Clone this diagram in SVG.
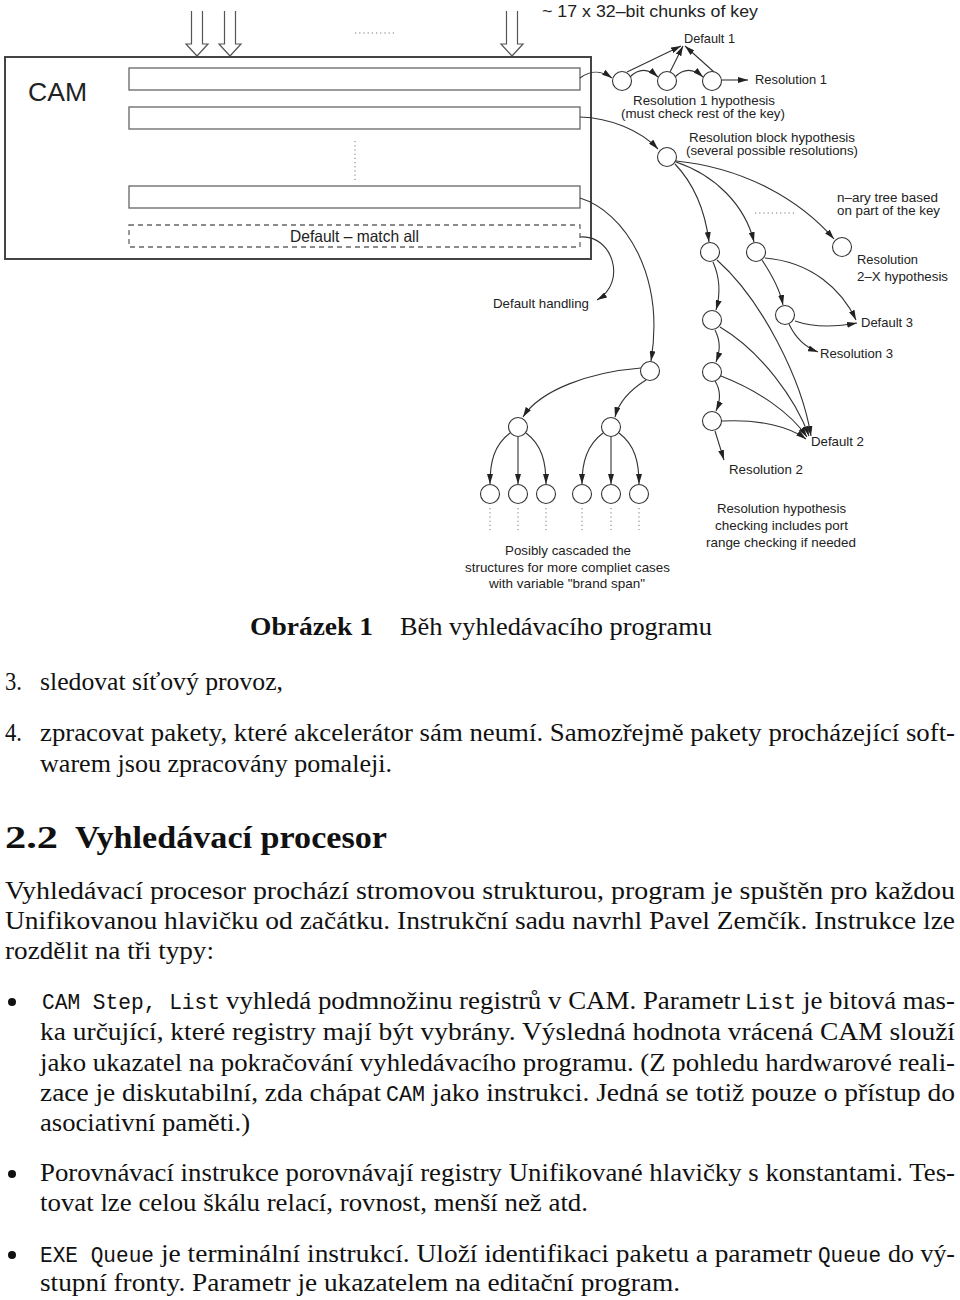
<svg xmlns="http://www.w3.org/2000/svg" width="960" height="1300" viewBox="0 0 960 1300">
<style>
.lbl{font-family:"Liberation Sans",Arial,sans-serif;font-size:13.5px;fill:#222}
.sm{font-size:12.5px}
.body{font-family:"Liberation Serif","Times New Roman",serif;font-size:25px;fill:#111}
.mono{font-family:"Liberation Mono","Courier New",monospace;font-size:22px;fill:#111}
.b{font-weight:bold}
.row{fill:none;stroke:#666;stroke-width:1.3}
.node{fill:#fff;stroke:#333;stroke-width:1.1}
.con{fill:none;stroke:#333;stroke-width:1.1}
.dots{fill:none;stroke:#777;stroke-width:1;stroke-dasharray:1.2 3}
.big{fill:none;stroke:#555;stroke-width:1.2}
</style>
<defs>
<marker id="ah" viewBox="0 0 10 6" refX="10" refY="3" markerWidth="10" markerHeight="6" markerUnits="userSpaceOnUse" orient="auto">
<path d="M0,0 L10,3 L0,6 z" fill="#222"/>
</marker>
</defs>

<g id="inputs">
<path class="big" d="M191.5,11 V44 H186 L197,56 L208,44 H202.5 V11"/>
<path class="big" d="M224.5,11 V44 H219 L230,56 L241,44 H235.5 V11"/>
<path class="big" d="M506.5,11 V44 H501 L512,56 L523,44 H517.5 V11"/>
<line class="dots" x1="355" y1="33" x2="394" y2="33"/>
<text class="lbl" x="542" y="17" style="font-size:17px" textLength="216" lengthAdjust="spacingAndGlyphs">~ 17 x 32–bit chunks of key</text>
</g>

<g id="cam">
<rect x="5" y="57" width="586" height="202" fill="none" stroke="#444" stroke-width="2"/>
<text class="lbl" x="28" y="101" style="font-size:26px" textLength="59" lengthAdjust="spacingAndGlyphs">CAM</text>
<rect class="row" x="129" y="68" width="451" height="22"/>
<rect class="row" x="129" y="107" width="451" height="22"/>
<line class="dots" x1="355" y1="141" x2="355" y2="180"/>
<rect class="row" x="129" y="186" width="451" height="22"/>
<rect class="row" x="129" y="225" width="451" height="22" stroke-dasharray="5 4"/>
<text class="lbl" x="290" y="242" style="font-size:16.5px" textLength="129" lengthAdjust="spacingAndGlyphs">Default – match all</text>
</g>

<g id="connectors">
<path class="con" marker-end="url(#ah)" d="M580,78 C592,69 602,71 612,78"/>
<path class="con" marker-end="url(#ah)" d="M630,77 C639,68 649,69 658,77"/>
<path class="con" marker-end="url(#ah)" d="M675,77 C684,68 694,69 703,77"/>
<path class="con" marker-end="url(#ah)" d="M722,80 L748,80"/>
<path class="con" marker-end="url(#ah)" d="M627,72 L681,46"/>
<path class="con" marker-end="url(#ah)" d="M670,72 L683,46"/>
<path class="con" marker-end="url(#ah)" d="M714,72 L685,46"/>
<path class="con" marker-end="url(#ah)" d="M580,117 C610,118 640,130 658,149"/>
<path class="con" marker-end="url(#ah)" d="M675,164 C695,185 705,210 709,242"/>
<path class="con" marker-end="url(#ah)" d="M676,162 C715,175 745,205 754,242"/>
<path class="con" marker-end="url(#ah)" d="M676,161 C745,168 800,200 834,239"/>
<path class="con" marker-end="url(#ah)" d="M580,198 C625,212 665,275 651,361"/>
<path class="con" marker-end="url(#ah)" d="M580,237 C612,234 628,282 597,300"/>
<path class="con" marker-end="url(#ah)" d="M713,262 C721,280 720,296 716,310"/>
<path class="con" marker-end="url(#ah)" d="M715,330 C721,342 720,351 716,362"/>
<path class="con" marker-end="url(#ah)" d="M715,381 C722,392 720,402 716,411"/>
<path class="con" marker-end="url(#ah)" d="M715,431 L724,460"/>
<path class="con" marker-end="url(#ah)" d="M722,421 C760,419 790,427 806,439"/>
<path class="con" marker-end="url(#ah)" d="M721,376 C757,390 790,412 807,437"/>
<path class="con" marker-end="url(#ah)" d="M720,327 C762,352 796,400 809,436"/>
<path class="con" marker-end="url(#ah)" d="M717,260 C762,300 802,380 811,436"/>
<path class="con" marker-end="url(#ah)" d="M762,260 C772,275 780,289 783,305"/>
<path class="con" marker-end="url(#ah)" d="M765,258 C812,262 842,290 856,320"/>
<path class="con" marker-end="url(#ah)" d="M795,321 C815,328 836,327 857,323"/>
<path class="con" marker-end="url(#ah)" d="M789,324 C795,337 805,347 818,352"/>
<path class="con" marker-end="url(#ah)" d="M641,368 C590,372 540,390 523,417"/>
<path class="con" marker-end="url(#ah)" d="M646,380 C630,390 619,401 615,417"/>
<path class="con" marker-end="url(#ah)" d="M510,433 C494,445 490,462 490,484"/>
<path class="con" marker-end="url(#ah)" d="M518,437 L518,484"/>
<path class="con" marker-end="url(#ah)" d="M526,433 C542,445 546,462 546,484"/>
<path class="con" marker-end="url(#ah)" d="M603,433 C587,445 582,462 582,484"/>
<path class="con" marker-end="url(#ah)" d="M611,437 L611,484"/>
<path class="con" marker-end="url(#ah)" d="M619,433 C635,445 639,462 639,484"/>
</g>

<g id="res1-chain">
<circle class="node" cx="622" cy="81" r="9.5"/>
<circle class="node" cx="667" cy="81" r="9.5"/>
<circle class="node" cx="712" cy="81" r="9.5"/>
<text class="lbl" x="684" y="43" textLength="51" lengthAdjust="spacingAndGlyphs">Default 1</text>
<text class="lbl" x="755" y="84" textLength="72" lengthAdjust="spacingAndGlyphs">Resolution 1</text>
<text class="lbl sm" x="633" y="105" textLength="142" lengthAdjust="spacingAndGlyphs">Resolution 1 hypothesis</text>
<text class="lbl sm" x="621" y="118" textLength="164" lengthAdjust="spacingAndGlyphs">(must check rest of the key)</text>
</g>

<g id="block">
<circle class="node" cx="667" cy="157" r="9.5"/>
<text class="lbl sm" x="689" y="142" textLength="166" lengthAdjust="spacingAndGlyphs">Resolution block hypothesis</text>
<text class="lbl sm" x="686" y="155" textLength="172" lengthAdjust="spacingAndGlyphs">(several possible resolutions)</text>
</g>

<g id="ntree">
<circle class="node" cx="710" cy="252" r="9.5"/>
<circle class="node" cx="756" cy="252" r="9.5"/>
<circle class="node" cx="842" cy="247" r="9.5"/>
<line class="dots" x1="755" y1="213" x2="794" y2="213"/>
<text class="lbl sm" x="837" y="202" textLength="101" lengthAdjust="spacingAndGlyphs">n–ary tree based</text>
<text class="lbl sm" x="837" y="215" textLength="103" lengthAdjust="spacingAndGlyphs">on part of the key</text>
<text class="lbl" x="857" y="264" textLength="61" lengthAdjust="spacingAndGlyphs">Resolution</text>
<text class="lbl" x="857" y="281" textLength="91" lengthAdjust="spacingAndGlyphs">2–X hypothesis</text>
</g>

<g id="branch3">
<circle class="node" cx="785" cy="315" r="9.5"/>
<text class="lbl" x="861" y="327" textLength="52" lengthAdjust="spacingAndGlyphs">Default 3</text>
<text class="lbl" x="820" y="358" textLength="73" lengthAdjust="spacingAndGlyphs">Resolution 3</text>
</g>

<g id="branch2">
<circle class="node" cx="712" cy="320" r="9.5"/>
<circle class="node" cx="712" cy="372" r="9.5"/>
<circle class="node" cx="712" cy="421" r="9.5"/>
<text class="lbl" x="811" y="446" textLength="53" lengthAdjust="spacingAndGlyphs">Default 2</text>
<text class="lbl" x="729" y="474" textLength="74" lengthAdjust="spacingAndGlyphs">Resolution 2</text>
<text class="lbl" x="717" y="513" textLength="129" lengthAdjust="spacingAndGlyphs">Resolution hypothesis</text>
<text class="lbl" x="715" y="530" textLength="133" lengthAdjust="spacingAndGlyphs">checking includes port</text>
<text class="lbl" x="706" y="547" textLength="150" lengthAdjust="spacingAndGlyphs">range checking if needed</text>
</g>

<g id="default-handling">
<text class="lbl" x="493" y="308" textLength="96" lengthAdjust="spacingAndGlyphs">Default handling</text>
</g>

<g id="cascade">
<circle class="node" cx="650" cy="371" r="9.5"/>
<circle class="node" cx="518" cy="427" r="9.5"/>
<circle class="node" cx="611" cy="427" r="9.5"/>
<circle class="node" cx="490" cy="494" r="9.5"/>
<circle class="node" cx="518" cy="494" r="9.5"/>
<circle class="node" cx="546" cy="494" r="9.5"/>
<circle class="node" cx="582" cy="494" r="9.5"/>
<circle class="node" cx="611" cy="494" r="9.5"/>
<circle class="node" cx="639" cy="494" r="9.5"/>
<line class="dots" x1="490" y1="508" x2="490" y2="530"/>
<line class="dots" x1="518" y1="508" x2="518" y2="530"/>
<line class="dots" x1="546" y1="508" x2="546" y2="530"/>
<line class="dots" x1="582" y1="508" x2="582" y2="530"/>
<line class="dots" x1="611" y1="508" x2="611" y2="530"/>
<line class="dots" x1="639" y1="508" x2="639" y2="530"/>
<text class="lbl" x="505" y="555" textLength="126" lengthAdjust="spacingAndGlyphs">Posibly cascaded the</text>
<text class="lbl" x="465" y="572" textLength="205" lengthAdjust="spacingAndGlyphs">structures for more compliet cases</text>
<text class="lbl" x="489" y="588" textLength="156" lengthAdjust="spacingAndGlyphs">with variable "brand span"</text>
</g>

<g id="text">
<text class="body b" x="250" y="635" textLength="123" lengthAdjust="spacingAndGlyphs">Obrázek 1</text>
<text class="body" x="400" y="635" textLength="312" lengthAdjust="spacingAndGlyphs">Běh vyhledávacího programu</text>

<text class="body" x="5" y="690" textLength="17" lengthAdjust="spacingAndGlyphs">3.</text>
<text class="body" x="40" y="690" textLength="243" lengthAdjust="spacingAndGlyphs">sledovat síťový provoz,</text>
<text class="body" x="5" y="741" textLength="17" lengthAdjust="spacingAndGlyphs">4.</text>
<text class="body" x="40" y="741" textLength="915" lengthAdjust="spacingAndGlyphs">zpracovat pakety, které akcelerátor sám neumí. Samozřejmě pakety procházející soft-</text>
<text class="body" x="40" y="772" textLength="352" lengthAdjust="spacingAndGlyphs">warem jsou zpracovány pomaleji.</text>

<text class="body b" x="5" y="848" style="font-size:31px" textLength="53" lengthAdjust="spacingAndGlyphs">2.2</text>
<text class="body b" x="75" y="848" style="font-size:31px" textLength="312" lengthAdjust="spacingAndGlyphs">Vyhledávací procesor</text>

<text class="body" x="5" y="899" textLength="950" lengthAdjust="spacingAndGlyphs">Vyhledávací procesor prochází stromovou strukturou, program je spuštěn pro každou</text>
<text class="body" x="5" y="929" textLength="950" lengthAdjust="spacingAndGlyphs">Unifikovanou hlavičku od začátku. Instrukční sadu navrhl Pavel Zemčík. Instrukce lze</text>
<text class="body" x="5" y="959" textLength="209" lengthAdjust="spacingAndGlyphs">rozdělit na tři typy:</text>

<circle cx="12" cy="1002" r="4" fill="#111"/>
<text class="mono" x="42" y="1009" textLength="178" lengthAdjust="spacingAndGlyphs">CAM Step, List</text>
<text class="body" x="226" y="1009" textLength="514" lengthAdjust="spacingAndGlyphs">vyhledá podmnožinu registrů v CAM. Parametr</text>
<text class="mono" x="745" y="1009" textLength="51" lengthAdjust="spacingAndGlyphs">List</text>
<text class="body" x="803" y="1009" textLength="152" lengthAdjust="spacingAndGlyphs">je bitová mas-</text>
<text class="body" x="40" y="1040" textLength="915" lengthAdjust="spacingAndGlyphs">ka určující, které registry mají být vybrány. Výsledná hodnota vrácená CAM slouží</text>
<text class="body" x="40" y="1071" textLength="915" lengthAdjust="spacingAndGlyphs">jako ukazatel na pokračování vyhledávacího programu. (Z pohledu hardwarové reali-</text>
<text class="body" x="40" y="1101" textLength="341" lengthAdjust="spacingAndGlyphs">zace je diskutabilní, zda chápat</text>
<text class="mono" x="386" y="1101" textLength="39" lengthAdjust="spacingAndGlyphs">CAM</text>
<text class="body" x="432" y="1101" textLength="523" lengthAdjust="spacingAndGlyphs">jako instrukci. Jedná se totiž pouze o přístup do</text>
<text class="body" x="40" y="1131" textLength="210" lengthAdjust="spacingAndGlyphs">asociativní paměti.)</text>

<circle cx="12" cy="1174" r="4" fill="#111"/>
<text class="body" x="40" y="1181" textLength="915" lengthAdjust="spacingAndGlyphs">Porovnávací instrukce porovnávají registry Unifikované hlavičky s konstantami. Tes-</text>
<text class="body" x="40" y="1211" textLength="548" lengthAdjust="spacingAndGlyphs">tovat lze celou škálu relací, rovnost, menší než atd.</text>

<circle cx="12" cy="1255" r="4" fill="#111"/>
<text class="mono" x="40" y="1262" textLength="114" lengthAdjust="spacingAndGlyphs">EXE Queue</text>
<text class="body" x="161" y="1262" textLength="651" lengthAdjust="spacingAndGlyphs">je terminální instrukcí. Uloží identifikaci paketu a parametr</text>
<text class="mono" x="818" y="1262" textLength="63" lengthAdjust="spacingAndGlyphs">Queue</text>
<text class="body" x="888" y="1262" textLength="67" lengthAdjust="spacingAndGlyphs">do vý-</text>
<text class="body" x="40" y="1291" textLength="640" lengthAdjust="spacingAndGlyphs">stupní fronty. Parametr je ukazatelem na editační program.</text>
</g>
</svg>
